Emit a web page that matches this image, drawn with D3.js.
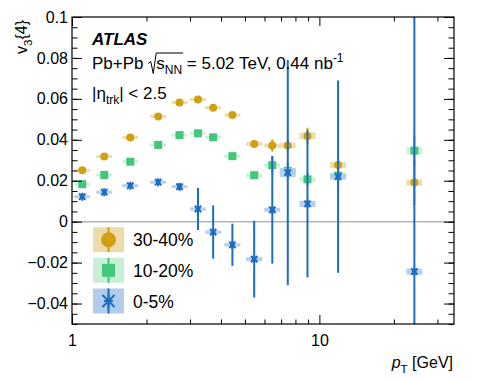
<!DOCTYPE html>
<html>
<head>
<meta charset="utf-8">
<script src="https://d3js.org/d3.v7.min.js"></script>
<style>
  body { margin: 0; background: #fff; }
  text { font-family: "Liberation Sans", Arial, Helvetica, sans-serif; fill: #000; white-space: pre; }
</style>
</head>
<body>
<svg id="chart"></svg>
<script>
// pT bin centres [GeV]
let pt = [1.1, 1.35, 1.72, 2.23, 2.72, 3.23, 3.72, 4.45, 5.45, 6.45, 7.45, 8.95, 11.9, 24.2]

// v3{4}, 30-40%
let v_30_40 = [0.0251, 0.0319, 0.0411, 0.0514, 0.0582, 0.0597, 0.0557, 0.0521, 0.0380, 0.0372, 0.0372, 0.0419, 0.0277, 0.0191]
let stat_30_40 = [0.0005, 0.0005, 0.0006, 0.0007, 0.0008, 0.0009, 0.001, 0.0012, 0.0018, 0.003, 0.003, 0.004, 0.0068, 0.011]
let sys_30_40 = [0.0007, 0.0007, 0.0007, 0.0007, 0.0007, 0.0007, 0.0008, 0.0008, 0.001, 0.001, 0.0012, 0.0017, 0.0015, 0.0015]

// v3{4}, 10-20%
let v_10_20 = [0.0183, 0.0228, 0.0293, 0.0375, 0.0423, 0.0432, 0.0412, 0.0320, 0.0227, 0.0276, 0.0248, 0.0207, 0.0225, 0.0347]
let stat_10_20 = [0.0004, 0.0004, 0.0005, 0.0006, 0.0007, 0.0008, 0.0009, 0.0011, 0.0016, 0.0045, 0.004, 0.003, 0.0075, 0.0076]
let sys_10_20 = [0.0007, 0.0007, 0.0007, 0.0007, 0.0007, 0.0007, 0.0008, 0.0008, 0.0009, 0.001, 0.001, 0.0012, 0.0015, 0.0016]

// v3{4}, 0-5%
let v_0_5 = [0.0122, 0.0144, 0.0176, 0.0193, 0.0171, 0.0062, -0.0051, -0.0113, -0.0183, 0.0058, 0.0240, 0.0087, 0.0220, -0.0244]
let stat_0_5 = [0.0008, 0.0009, 0.001, 0.0012, 0.0018, 0.0103, 0.013, 0.0103, 0.0188, 0.0263, 0.055, 0.036, 0.047, 0.15]
let sys_0_5 = [0.0007, 0.0007, 0.0007, 0.0007, 0.0007, 0.0008, 0.0008, 0.0008, 0.001, 0.001, 0.0022, 0.0015, 0.0015, 0.0015]

let seriesNames = ['30-40%', '10-20%', '0-5%']
let markerColors = ['#d19f14', '#45c77a', '#1c6dc2']
let boxColors = ['#ebd7a0', '#c3edd3', '#a9c8ea']
let markerShapes = ['circle', 'square', 'star']

let yMajor = [-0.04, -0.02, 0, 0.02, 0.04, 0.06, 0.08, 0.1]
let yMinor = d3.range(-50, 101, 5).map(d => d / 1000)
let xMajor = [1, 10]
let xMinor = [2, 3, 4, 5, 6, 7, 8, 9, 20, 30]

let W = 478, H = 381
let L = 72, R = 454, T = 17, B = 324

let svg = d3.select('#chart').attr('width', W).attr('height', H)

let x = d3.scaleLog().domain([1, 35]).range([L, R])
let y = d3.scaleLinear().domain([-0.05, 0.1]).range([B, T])

let series = [
    {vals: v_30_40, stat: stat_30_40, sys: sys_30_40},
    {vals: v_10_20, stat: stat_10_20, sys: sys_10_20},
    {vals: v_0_5, stat: stat_0_5, sys: sys_0_5}
].map((s, i) => ({
    name: seriesNames[i], color: markerColors[i], box: boxColors[i], shape: markerShapes[i],
    pts: pt.map((p, j) => ({pt: p, v: s.vals[j], stat: s.stat[j], sys: s.sys[j]}))
}))

svg.append('defs').append('clipPath').attr('id', 'plotClip')
    .append('rect').attr('x', L).attr('y', T).attr('width', R - L).attr('height', B - T)

// zero line
svg.append('line')
    .attr('x1', L).attr('x2', R).attr('y1', y(0)).attr('y2', y(0))
    .attr('stroke', '#b4b4b4').attr('stroke-width', 1.5)

function drawMarker(g, shape, color, s) {
    if (shape == 'circle') {
        g.append('circle').attr('r', s).attr('fill', color)
    } else if (shape == 'square') {
        g.append('rect').attr('x', -s).attr('y', -s).attr('width', 2 * s).attr('height', 2 * s).attr('fill', color)
    } else {
        let d = s * 0.8
        g.append('path')
            .attr('d', `M${-d},${-d}L${d},${d}M${-d},${d}L${d},${-d}M0,${-s}L0,${s}M${-s*0.6},0L${s*0.6},0`)
            .attr('stroke', color).attr('stroke-width', 2).attr('fill', 'none')
    }
}

let dataG = svg.append('g').attr('clip-path', 'url(#plotClip)')

series.forEach(s => {
    let g = dataG.append('g')
    g.selectAll('.sysBox').data(s.pts).enter().append('rect')
        .attr('class', 'sysBox')
        .attr('x', d => x(d.pt) - 8)
        .attr('width', 16)
        .attr('y', d => Math.min(y(d.v + d.sys), y(d.v) - 1.5))
        .attr('height', d => Math.max(y(d.v - d.sys) - y(d.v + d.sys), 3))
        .attr('fill', s.box).attr('fill-opacity', 0.85)
    g.selectAll('.errBar').data(s.pts).enter().append('line')
        .attr('class', 'errBar')
        .attr('x1', d => x(d.pt)).attr('x2', d => x(d.pt))
        .attr('y1', d => y(d.v - d.stat)).attr('y2', d => y(d.v + d.stat))
        .attr('stroke', s.color).attr('stroke-width', 2)
    g.selectAll('.mark').data(s.pts).enter().append('g')
        .attr('class', 'mark')
        .attr('transform', d => `translate(${x(d.pt)},${y(d.v)})`)
        .each(function() { drawMarker(d3.select(this), s.shape, s.color, 4) })
})

// axes, ticks inside the frame
function styleAxis(g) {
    g.select('.domain').remove()
    g.selectAll('line').attr('stroke', '#000').attr('stroke-width', 1)
    g.selectAll('text').style('font-size', '16px').attr('fill', '#000')
}
let fmtY = d => d == 0 ? '0' : (d < 0 ? '\u2212' : '') + Math.abs(d).toString()

svg.append('g').attr('transform', `translate(${L},0)`)
    .call(d3.axisLeft(y).tickValues(yMinor).tickSize(-5.5).tickFormat('')).call(styleAxis)
svg.append('g').attr('transform', `translate(${L},0)`)
    .call(d3.axisLeft(y).tickValues(yMajor).tickSize(-10).tickPadding(4).tickFormat(fmtY)).call(styleAxis)
svg.append('g').attr('transform', `translate(${R},0)`)
    .call(d3.axisRight(y).tickValues(yMinor).tickSize(-5.5).tickFormat('')).call(styleAxis)
svg.append('g').attr('transform', `translate(${R},0)`)
    .call(d3.axisRight(y).tickValues(yMajor).tickSize(-10).tickFormat('')).call(styleAxis)

svg.append('g').attr('transform', `translate(0,${B})`)
    .call(d3.axisBottom(x).tickValues(xMinor).tickSize(-4.5).tickFormat('')).call(styleAxis)
svg.append('g').attr('transform', `translate(0,${B})`)
    .call(d3.axisBottom(x).tickValues(xMajor).tickSize(-9).tickPadding(11).tickFormat(d3.format('d'))).call(styleAxis)
svg.append('g').attr('transform', `translate(0,${T})`)
    .call(d3.axisTop(x).tickValues(xMinor).tickSize(-4.5).tickFormat('')).call(styleAxis)
svg.append('g').attr('transform', `translate(0,${T})`)
    .call(d3.axisTop(x).tickValues(xMajor).tickSize(-9).tickFormat('')).call(styleAxis)

svg.append('rect')
    .attr('x', L).attr('y', T).attr('width', R - L).attr('height', B - T)
    .attr('fill', 'none').attr('stroke', '#000').attr('stroke-width', 1.2)

// text laid out piece by piece (sub/superscripts)
function richText(x0, y0, pieces, anchorEnd) {
    let g = svg.append('g')
    let cx = 0
    let out = []
    pieces.forEach(p => {
        let t = g.append('text')
            .attr('x', cx).attr('y', p.dy || 0)
            .attr('xml:space', 'preserve')
            .style('font-size', p.size + 'px')
            .style('font-style', p.italic ? 'italic' : 'normal')
            .style('font-weight', p.bold ? 'bold' : 'normal')
            .text(p.t)
        let w = p.t ? t.node().getComputedTextLength() : 0
        out.push({x: cx, w: w})
        cx += w + (p.gap || 0)
    })
    g.attr('transform', `translate(${anchorEnd ? x0 - cx : x0},${y0})`)
    return {g: g, pos: out, width: cx}
}

richText(92, 45, [{t: 'ATLAS', size: 17, bold: true, italic: true}])

let line2 = richText(92, 68.5, [
    {t: 'Pb+Pb ', size: 17},
    {t: '', size: 17, gap: 8},
    {t: 's', size: 17},
    {t: 'NN', size: 12, dy: 5},
    {t: ' = 5.02 TeV, 0.44 nb', size: 17},
    {t: '-1', size: 12, dy: -7}
])
{
    let r0 = line2.pos[1].x, ovEnd = line2.pos[3].x + line2.pos[3].w + 1
    line2.g.append('path')
        .attr('d', `M${r0},-5L${r0 + 2.5},-7L${r0 + 5},5L${r0 + 8},-15.5L${ovEnd},-15.5`)
        .attr('fill', 'none').attr('stroke', '#000').attr('stroke-width', 1)
}

richText(92, 98.5, [
    {t: '|\u03B7', size: 17},
    {t: 'trk', size: 12, dy: 5},
    {t: '| < 2.5', size: 17}
])

// axis titles
let yt = richText(0, 0, [
    {t: 'v', size: 16},
    {t: '3', size: 11.5, dy: 5},
    {t: '{4}', size: 16}
])
yt.g.attr('transform', `translate(27,${20 + yt.width}) rotate(-90)`)

richText(453, 368, [
    {t: 'p', size: 16, italic: true},
    {t: 'T', size: 11.5, dy: 5},
    {t: ' [GeV]', size: 16}
], true)

// legend
let legY = d3.scalePoint().domain(seriesNames).range([239.7, 301])
let legend = svg.append('g').selectAll('.leg').data(series).enter().append('g')
    .attr('class', 'leg')
    .attr('transform', d => `translate(108.5,${legY(d.name)})`)
legend.append('rect')
    .attr('x', -15.5).attr('y', -12.5).attr('width', 31).attr('height', 25)
    .attr('fill', d => d.box).attr('fill-opacity', 0.9)
legend.append('line')
    .attr('y1', -12.5).attr('y2', 12.5)
    .attr('stroke', d => d.color).attr('stroke-width', 2)
legend.each(function(d) {
    let g = d3.select(this).append('g')
    drawMarker(g, d.shape, d.color, d.shape == 'square' ? 6.5 : 7.5)
})
legend.append('text')
    .attr('x', 24.5).attr('y', 6.5)
    .style('font-size', '17.5px')
    .text(d => d.name)
</script>
</body>
</html>
